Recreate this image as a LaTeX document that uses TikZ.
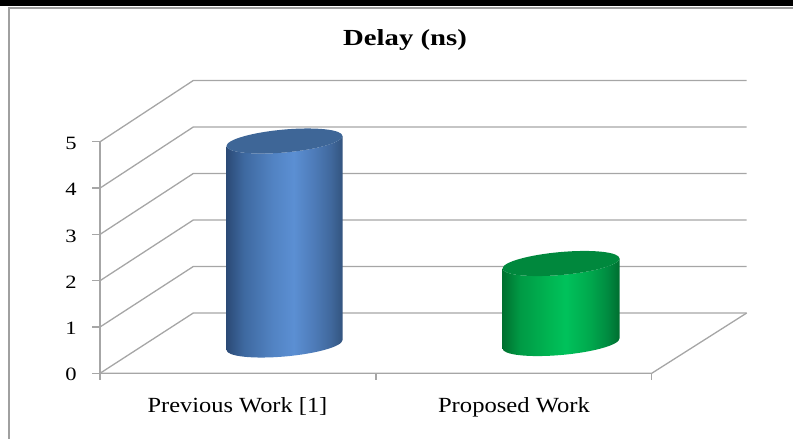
\documentclass[tikz,border=0pt]{standalone}
\usepackage{fontspec}
\setmainfont{Liberation Serif}
\definecolor{gridgray}{HTML}{A6A6A6}
\definecolor{framegray}{HTML}{A0A0A0}
\definecolor{bA}{HTML}{2B4A76}
\definecolor{bB}{HTML}{3E69A0}
\definecolor{bC}{HTML}{5283C3}
\definecolor{bD}{HTML}{5B8FD3}
\definecolor{bE}{HTML}{4E7CB9}
\definecolor{bF}{HTML}{40689C}
\definecolor{bG}{HTML}{33547F}
\definecolor{btop}{HTML}{3E6697}
\definecolor{gA}{HTML}{00702F}
\definecolor{gB}{HTML}{009A45}
\definecolor{gC}{HTML}{00B552}
\definecolor{gD}{HTML}{00C25B}
\definecolor{gE}{HTML}{00A84D}
\definecolor{gF}{HTML}{008A40}
\definecolor{gG}{HTML}{006E30}
\definecolor{gtop}{HTML}{00883D}
\pgfdeclarehorizontalshading{bluecyl}{100bp}{color(0bp)=(bA); color(25bp)=(bA); color(32.5bp)=(bB); color(45bp)=(bC); color(54bp)=(bD); color(62.5bp)=(bE); color(70bp)=(bF); color(75bp)=(bG); color(100bp)=(bG)}
\pgfdeclarehorizontalshading{greencyl}{100bp}{color(0bp)=(gA); color(25bp)=(gA); color(32.5bp)=(gB); color(45bp)=(gC); color(52bp)=(gD); color(62.5bp)=(gE); color(70bp)=(gF); color(75bp)=(gG); color(100bp)=(gG)}
\newcommand\mycyl[7]{%
  \begin{scope}[shift={(#1,-#2)}, yslant=0.086]
    \pgfmathsetmacro\hh{#3-#2}
    \shade[shading=#6] (-#4,0) -- (-#4,-\hh)
      arc[start angle=180,end angle=360,x radius=#4,y radius=#5]
      -- (#4,0) arc[start angle=0,end angle=-180,x radius=#4,y radius=#5] -- cycle;
    \fill[#7] (0,0) ellipse[x radius=#4, y radius=#5];
  \end{scope}}
\begin{document}
\begin{tikzpicture}[x=1pt,y=1pt,
  grid/.style={draw=gridgray,line width=1.3pt},
  lbl/.style={anchor=base,inner sep=0pt,font=\fontsize{21.6}{22}\selectfont},
  num/.style={anchor=base,inner sep=0pt,font=\fontsize{18.8}{19}\selectfont}]
\useasboundingbox (0,0) rectangle (793,-439);
\fill[black] (0,0) rectangle (793,-5.5);
\draw[framegray, line width=2pt] (793,-8.3) -- (8.5,-8.3) -- (8.5,-439);
% gridlines
\foreach \k in {0,...,5}{
  \pgfmathsetmacro\fy{-(373.3-46.3*\k)}
  \pgfmathsetmacro\by{-(313-46.5*\k)}
  \pgfmathsetmacro\ly{-(373.3-46.3*\k+7.6)}
  \draw[grid] (100,\fy) -- (193.3,\by) -- (746.7,\by);
  \draw[grid] (92,\fy) -- (100,\fy);
  \node[num] (y\k) at (71,\ly) {\scalebox{1.2}[1]{\k}};
}
% floor and axes
\draw[grid] (100,-373.3) -- (651.7,-373.3) -- (746.7,-313);
\draw[grid] (100,-141.7) -- (100,-380);
\foreach \x in {100,376,651.7}{\draw[grid] (\x,-373.3) -- (\x,-380);}
% bars
\mycyl{284.5}{141}{345}{58}{11.5}{bluecyl}{btop}
\mycyl{561}{263.5}{343.5}{58.5}{11.5}{greencyl}{gtop}
% texts
\node[anchor=base,inner sep=0pt,font=\bfseries\fontsize{23}{24}\selectfont] (title) at (405,-45.7) {\scalebox{1.25}[1]{Delay (ns)}};
\node[lbl] (c1) at (237.5,-412.7) {\scalebox{1.13}[1]{Previous Work [1]}};
\node[lbl] (c2) at (514,-412.7) {\scalebox{1.14}[1]{Proposed Work}};
\end{tikzpicture}
\end{document}
